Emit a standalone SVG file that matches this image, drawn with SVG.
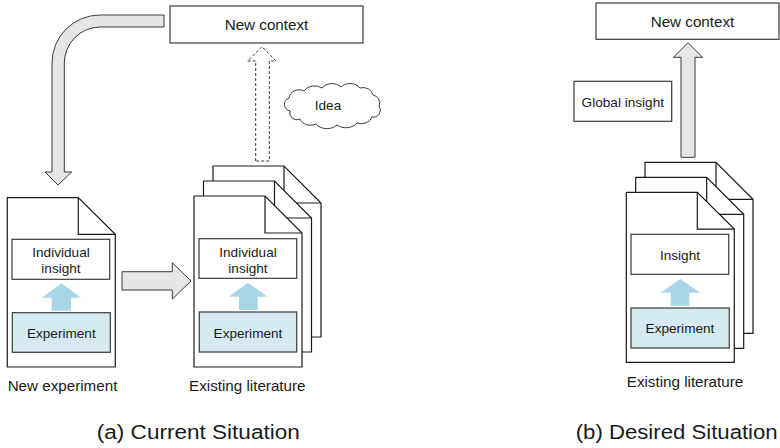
<svg xmlns="http://www.w3.org/2000/svg" width="780" height="448" viewBox="0 0 780 448">
<style>
.box{fill:#ffffff;stroke:#3a3a3a;stroke-width:1.2}
.exp{fill:#d5eaf3;stroke:#3a3a3a;stroke-width:1.2}
.doc{fill:#ffffff;stroke:#1a1a1a;stroke-width:1.2;stroke-linejoin:miter}
.fold{fill:none;stroke:#1a1a1a;stroke-width:1.2}
.garrow{fill:#e6e6e6;stroke:#3a3a3a;stroke-width:1}
.barrow{fill:#a8d6e8;stroke:none}
.t{font-family:"Liberation Sans",Arial,sans-serif;fill:#1a1a1a;text-anchor:middle}
.in{font-size:13.6px}
.lb{font-size:15.2px}
.cap{font-family:"Liberation Sans",Arial,sans-serif;font-size:20px;fill:#1a1a1a;text-anchor:middle}
</style>
<defs>
<path id="docshape" d="M0,0 H71 L108,37 V171 H0 Z"/>
<path id="docfold" d="M71,0 V37 H108"/>
</defs>

<g id="connectors">
<path class="garrow" d="M164,15 H100 A48,48 0 0 0 52,63 V172 H45 L58,185 L71.7,172 H64.3 V63 A36,36 0 0 1 100,27 H164 Z"/>
<path class="garrow" d="M122,271.7 H172.3 V262.7 L191,281 L172.3,299 V290 H122 Z"/>
<path d="M255.7,161 V61 H247.7 L262,46.7 L276,61 H269.3 V161 Z" fill="#ffffff" stroke="#3a3a3a" stroke-width="1" stroke-dasharray="3,2"/>
<path class="garrow" d="M681,157.3 V57.3 H673.3 L688,42.7 L702.7,57.3 H695 V157.3 Z"/>
</g>

<g id="new-context-a">
<rect class="box" x="170" y="6" width="193" height="37"/>
<text class="t lb" x="266.5" y="30">New context</text>
</g>

<g id="idea">
<path d="M290,111 A8,7 0 0 1 289,98 A10,9 0 0 1 304,91 A12,10 0 0 1 322,88 A12,10 0 0 1 341,87 A12,10 0 0 1 360,88 A10,9 0 0 1 373,95 A8,8 0 0 1 379,106 A7,7 0 0 1 372,117 A11,9 0 0 1 357,123 A13,10 0 0 1 337,125 A13,10 0 0 1 316,124 A11,9 0 0 1 300,119 A7,7 0 0 1 290,111 Z" fill="#ffffff" stroke="#3a3a3a" stroke-width="1"/>
<text class="t in" x="328" y="109.5">Idea</text>
</g>

<g id="new-experiment">
<use href="#docshape" class="doc" transform="translate(7.3,197.7) scale(1,0.99)"/>
<use href="#docfold" class="fold" transform="translate(7.3,197.7) scale(1,0.99)"/>
<rect class="box" x="12" y="239.3" width="97.7" height="40"/>
<text class="t in" x="61" y="256.7">Individual</text>
<text class="t in" x="61" y="273.3">insight</text>
<path class="barrow" d="M51.7,310.7 V297.7 H42 L61.5,283.3 L81,297.7 H71 V310.7 Z"/>
<rect class="exp" x="12.3" y="312.7" width="98" height="39.6"/>
<text class="t in" x="61.3" y="338">Experiment</text>
<text class="t lb" x="62.5" y="391">New experiment</text>
</g>

<g id="existing-literature-a">
<use href="#docshape" class="doc" transform="translate(213,166)"/>
<use href="#docfold" class="fold" transform="translate(213,166)"/>
<use href="#docshape" class="doc" transform="translate(203.5,181)"/>
<use href="#docfold" class="fold" transform="translate(203.5,181)"/>
<use href="#docshape" class="doc" transform="translate(194,196)"/>
<use href="#docfold" class="fold" transform="translate(194,196)"/>
<rect class="box" x="199" y="238.7" width="97.7" height="39.6"/>
<text class="t in" x="248" y="256.5">Individual</text>
<text class="t in" x="248" y="273">insight</text>
<path class="barrow" d="M239,310 V296.7 H228.7 L248,282.7 L267.7,296.7 H257.7 V310 Z"/>
<rect class="exp" x="199.3" y="312" width="97.4" height="40"/>
<text class="t in" x="248" y="337.5">Experiment</text>
<text class="t lb" x="247.3" y="391">Existing literature</text>
</g>

<g id="new-context-b">
<rect class="box" x="596" y="3" width="183" height="36.3"/>
<text class="t lb" x="692.5" y="27.3">New context</text>
</g>

<g id="global-insight">
<rect class="box" x="574" y="81.3" width="97.7" height="40"/>
<text class="t in" x="622.8" y="106.5">Global insight</text>
</g>

<g id="existing-literature-b">
<use href="#docshape" class="doc" transform="translate(645,162.3)"/>
<use href="#docfold" class="fold" transform="translate(645,162.3)"/>
<use href="#docshape" class="doc" transform="translate(635.7,177.3)"/>
<use href="#docfold" class="fold" transform="translate(635.7,177.3)"/>
<use href="#docshape" class="doc" transform="translate(626.3,192.3) scale(1,0.995)"/>
<use href="#docfold" class="fold" transform="translate(626.3,192.3) scale(1,0.995)"/>
<rect class="box" x="631" y="234.3" width="97.7" height="40"/>
<text class="t in" x="680" y="260">Insight</text>
<path class="barrow" d="M670.7,305.7 V292.7 H660.7 L680.3,279 L700,292.7 H689.3 V305.7 Z"/>
<rect class="exp" x="631" y="308" width="98.3" height="40"/>
<text class="t in" x="680" y="333.3">Experiment</text>
<text class="t lb" x="685" y="386.7">Existing literature</text>
</g>

<text class="cap" x="198.3" y="439" textLength="203" lengthAdjust="spacingAndGlyphs">(a) Current Situation</text>
<text class="cap" x="676.7" y="438.5" textLength="202" lengthAdjust="spacingAndGlyphs">(b) Desired Situation</text>
</svg>
